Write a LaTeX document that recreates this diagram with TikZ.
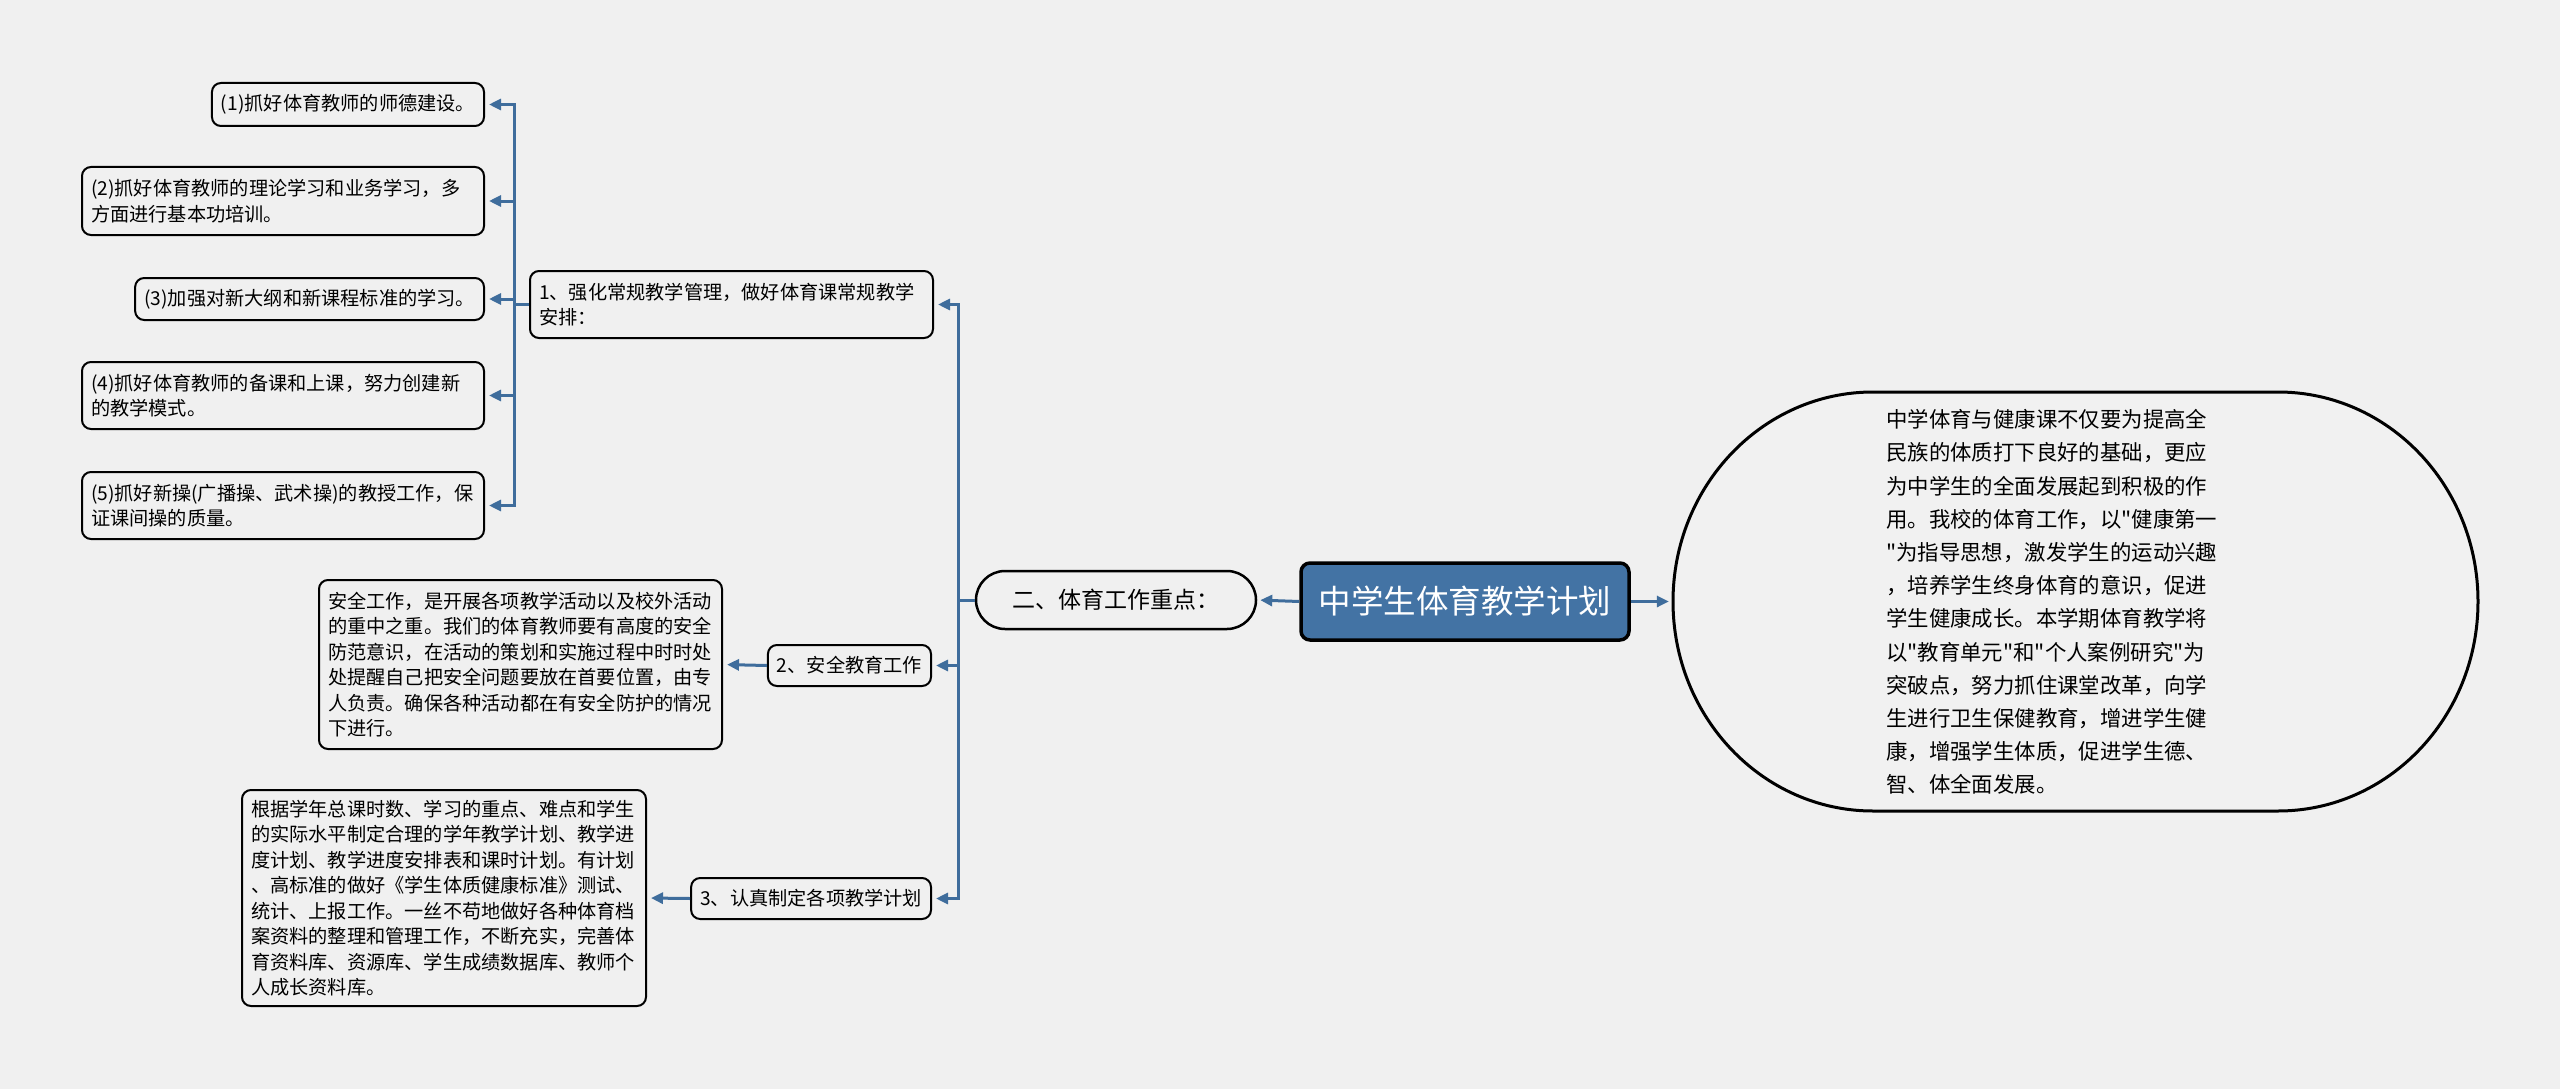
\documentclass[tikz,border=0pt]{standalone}
\usepackage{fontspec}
\setmainfont{Noto Sans CJK SC}[Ligatures=TeXOff]
\usetikzlibrary{arrows.meta,calc}
\definecolor{bgc}{HTML}{F0F0F0}
\definecolor{boxfill}{HTML}{F0F0F0}
\definecolor{bigfill}{HTML}{F1F1F1}
\definecolor{rootblue}{HTML}{4373A4}
\definecolor{connc}{HTML}{3F6D9C}
\begin{document}
\begin{tikzpicture}[x=1pt,y=-1pt,
  box/.style={draw=black, line width=2pt, rounded corners=9pt, fill=boxfill,
    inner xsep=9pt, inner ysep=0pt, align=left,
    font=\fontsize{19.2pt}{25.5pt}\selectfont},
  conn/.style={draw=connc, line width=3pt, -{Triangle[length=12pt,width=11pt]}, shorten >=4pt}]
\useasboundingbox[fill=bgc] (0,0) rectangle (2560,1089);

% root and main branches
\node[draw=black, line width=3.5pt, rounded corners=9pt, fill=rootblue, text=white,
  minimum width=328pt, minimum height=77pt, inner sep=0pt,
  font=\fontsize{32.5pt}{40pt}\selectfont] (root) at (1465,601.5) {中学生体育教学计划};
\node[draw=black, line width=2.5pt, rounded corners=29pt, fill=boxfill,
  minimum width=280pt, minimum height=58pt, inner sep=0pt,
  font=\fontsize{23pt}{28pt}\selectfont] (sec) at (1116,600) {二、体育工作重点：};

% big description shape
\node[minimum width=805pt, minimum height=419pt, inner sep=0pt] (big) at (2075.5,601.5) {};
\fill[bigfill] (1873,392) -- (2278,392)
  .. controls (2388.5,392) and (2478,485.8) .. (2478,601.5)
  .. controls (2478,717.2) and (2388.5,811) .. (2278,811)
  -- (1873,811)
  .. controls (1762.5,811) and (1673,717.2) .. (1673,601.5)
  .. controls (1673,485.8) and (1762.5,392) .. cycle;
\draw[black, line width=3pt] (1873,392) -- (2278,392)
  .. controls (2388.5,392) and (2478,485.8) .. (2478,601.5)
  .. controls (2478,717.2) and (2388.5,811) .. (2278,811)
  -- (1873,811)
  .. controls (1762.5,811) and (1673,717.2) .. (1673,601.5)
  .. controls (1673,485.8) and (1762.5,392) .. cycle;
\node[anchor=west, align=left, inner sep=0pt,
  font=\fontsize{21.4pt}{33.2pt}\selectfont] (bigtext) at (1886,602) {中学体育与健康课不仅要为提高全\\
民族的体质打下良好的基础，更应\\
为中学生的全面发展起到积极的作\\
用。我校的体育工作，以"健康第一\\
"为指导思想，激发学生的运动兴趣\\
，培养学生终身体育的意识，促进\\
学生健康成长。本学期体育教学将\\
以"教育单元"和"个人案例研究"为\\
突破点，努力抓住课堂改革，向学\\
生进行卫生保健教育，增进学生健\\
康，增强学生体质，促进学生德、\\
智、体全面发展。};

% second level
\node[box, anchor=west, text width=385pt, minimum height=67pt] (b1) at (529,304.5)
  {1、强化常规教学管理，做好体育课常规教学\\安排：};
\node[box, anchor=east, minimum height=41pt] (b2) at (932,665.5) {2、安全教育工作};
\node[box, anchor=east, minimum height=41pt] (b3) at (932,898.5) {3、认真制定各项教学计划};

% leaves of 1
\node[box, anchor=east, minimum height=43pt] (c1) at (485,104.5) {(1)抓好体育教师的师德建设。};
\node[box, anchor=east, text width=384pt, minimum height=68pt] (c2) at (485,201)
  {(2)抓好体育教师的理论学习和业务学习，多\\方面进行基本功培训。};
\node[box, anchor=east, minimum height=42pt] (c3) at (485,299) {(3)加强对新大纲和新课程标准的学习。};
\node[box, anchor=east, text width=384pt, minimum height=67pt] (c4) at (485,395.5)
  {(4)抓好体育教师的备课和上课，努力创建新\\的教学模式。};
\node[box, anchor=east, text width=384pt, minimum height=67pt] (c5) at (485,505.5)
  {(5)抓好新操(广播操、武术操)的教授工作，保\\证课间操的质量。};

% leaf of 2
\node[box, anchor=east, text width=385pt, minimum height=169pt] (safe) at (723,664.5)
  {安全工作，是开展各项教学活动以及校外活动\\
的重中之重。我们的体育教师要有高度的安全\\
防范意识，在活动的策划和实施过程中时时处\\
处提醒自己把安全问题要放在首要位置，由专\\
人负责。确保各种活动都在有安全防护的情况\\
下进行。};

% leaf of 3
\node[box, anchor=east, text width=386pt, minimum height=216pt] (long) at (647,898)
  {根据学年总课时数、学习的重点、难点和学生\\
的实际水平制定合理的学年教学计划、教学进\\
度计划、教学进度安排表和课时计划。有计划\\
、高标准的做好《学生体质健康标准》测试、\\
统计、上报工作。一丝不苟地做好各种体育档\\
案资料的整理和管理工作，不断充实，完善体\\
育资料库、资源库、学生成绩数据库、教师个\\
人成长资料库。};

% connectors
\draw[conn, shorten >=3pt] (root.west) -- (sec.east);
\draw[conn] (root.east) -- (big.west);
\draw[conn] (sec.west) -- ++(-16,0) |- (b1.east);
\draw[conn] (sec.west) -- ++(-16,0) |- (b2.east);
\draw[conn] (sec.west) -- ++(-16,0) |- (b3.east);
\draw[conn] (b1.west) -- ++(-15,0) |- (c1.east);
\draw[conn] (b1.west) -- ++(-15,0) |- (c2.east);
\draw[conn] (b1.west) -- ++(-15,0) |- (c3.east);
\draw[conn] (b1.west) -- ++(-15,0) |- (c4.east);
\draw[conn] (b1.west) -- ++(-15,0) |- (c5.east);
\draw[conn] (b2.west) -- (safe.east);
\draw[conn] (b3.west) -- (long.east);
\end{tikzpicture}
\end{document}
